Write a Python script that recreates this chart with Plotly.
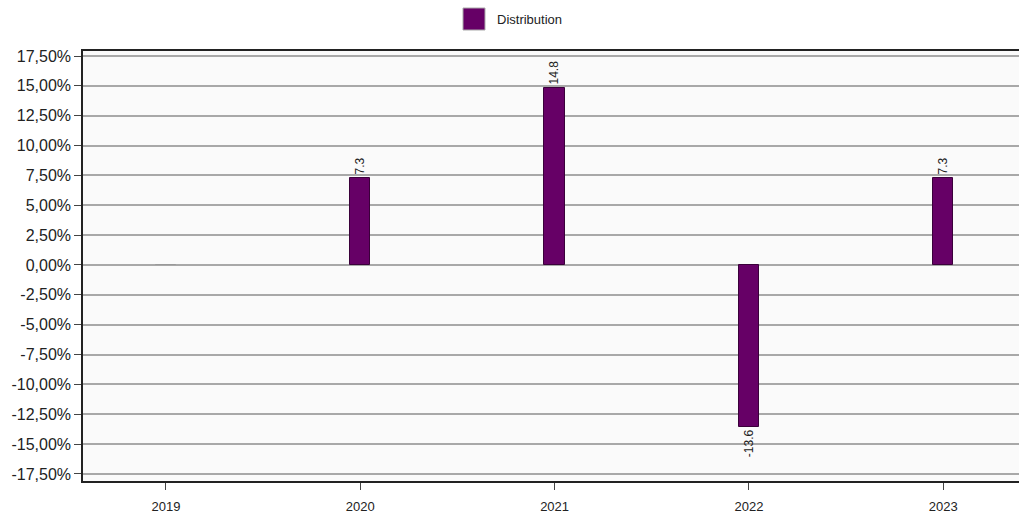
import plotly.graph_objects as go

years = ["2019", "2020", "2021", "2022", "2023"]
values = [0.0, 7.3, 14.8, -13.6, 7.3]
labels = ["", "7.3", "14.8", "-13.6", "7.3"]
series_name = "Distribution"
ytick_vals = [17.5, 15, 12.5, 10, 7.5, 5, 2.5, 0, -2.5, -5, -7.5, -10, -12.5, -15, -17.5]
ytick_text = [("%.2f%%" % v).replace(".", ",") for v in ytick_vals]

bar_color = "#660066"
outline_colors = ["#999999" if v == 0 else "#3a003a" for v in values]

fig = go.Figure()
fig.add_trace(go.Bar(
    x=list(range(len(years))), y=values, name=series_name,
    width=0.105,
    marker=dict(color=bar_color, line=dict(color=outline_colors, width=1)),
    text=labels, textposition="outside", textangle=-90,
    constraintext="none",
    textfont=dict(family="Liberation Sans, Arial", size=12, color="#222222"),
    cliponaxis=False,
    showlegend=False,
))

fig.update_layout(
    width=1019, height=513,
    margin=dict(l=83, r=0, t=51, b=32),
    paper_bgcolor="white",
    plot_bgcolor="#fafafa",
    font=dict(family="Liberation Sans, Arial", color="#222222"),
    bargap=0,
    shapes=[
        dict(type="rect", xref="paper", yref="paper",
             x0=(463 - 83) / 936, x1=(485 - 83) / 936,
             y0=(481 - 30) / 430, y1=(481 - 8) / 430,
             fillcolor=bar_color, line=dict(color="#aaaaaa", width=1)),
    ],
    annotations=[
        dict(text=series_name, xref="paper", yref="paper",
             x=(495 - 83) / 936, y=(481 - 19) / 430, xanchor="left", yanchor="middle",
             showarrow=False, font=dict(size=13, color="#222222")),
    ],
)

fig.update_xaxes(
    range=[-0.427, 4.39],
    tickvals=list(range(len(years))), ticktext=years,
    showline=True, linecolor="#222222", linewidth=1.5, mirror=True,
    ticks="outside", ticklen=7, tickcolor="#444444",
    showgrid=False, zeroline=False,
    tickfont=dict(size=13, color="#222222"),
    ticklabelstandoff=6,
)
fig.update_yaxes(
    range=[-18.09, 17.92],
    tickvals=ytick_vals, ticktext=ytick_text,
    showline=True, linecolor="#222222", linewidth=1.5,
    ticks="outside", ticklen=7, tickcolor="#444444",
    showgrid=True, gridcolor="#a8a8a8", gridwidth=1.5,
    zeroline=False,
    tickfont=dict(size=16, color="#222222"),
)

fig.write_html(
    "out.html",
    config={"displayModeBar": False},
    post_script="document.body.style.margin='0';document.body.style.overflow='hidden';",
)
